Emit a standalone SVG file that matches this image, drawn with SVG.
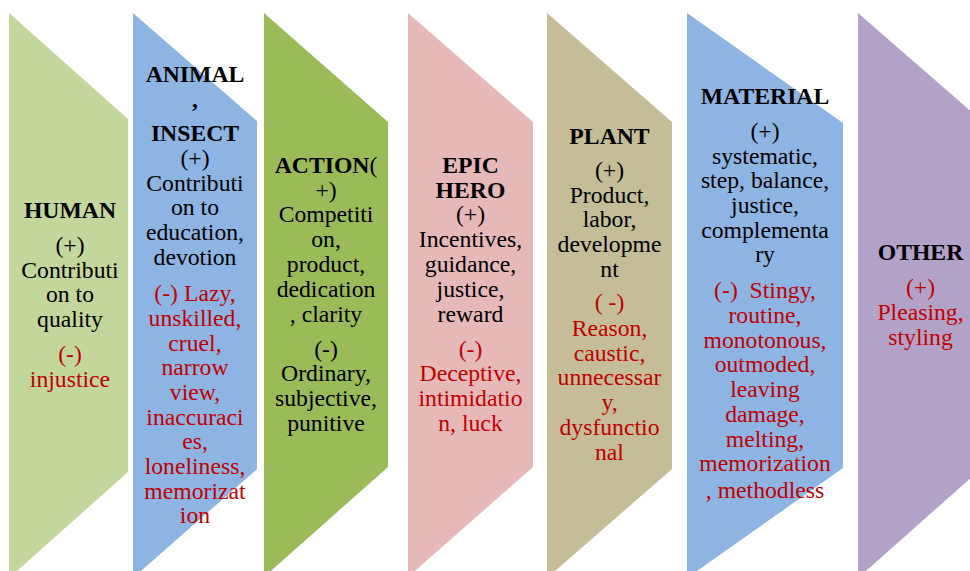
<svg xmlns="http://www.w3.org/2000/svg" width="970" height="571" viewBox="0 0 970 571">
<style>
.t text{font-family:'Liberation Serif','Times New Roman',serif;font-size:23.7px;text-anchor:middle;fill:#000}
.t .b{font-weight:bold}
.t .r{fill:#c00000}
</style>
<rect width="970" height="571" fill="#fff"/>
<g class="t">
<g id="human">
<polygon points="9,13 128,119 128,472 9,578" fill="#c3d69b"/>
<text x="70" y="218" class="b">HUMAN</text>
<text x="70" y="253">(+)</text>
<text x="70" y="277.5">Contributi</text>
<text x="70" y="302">on to</text>
<text x="70" y="326.6">quality</text>
<text x="70" y="362" class="r">(-)</text>
<text x="70" y="386.6" class="r">injustice</text>
</g>
<g id="animal-insect">
<polygon points="133,13 257,121 257,469 133,578" fill="#8eb4e3"/>
<text x="195" y="82" class="b">ANIMAL</text>
<text x="195" y="106.7" class="b">,</text>
<text x="195" y="141" class="b">INSECT</text>
<text x="195" y="166">(+)</text>
<text x="195" y="190.5">Contributi</text>
<text x="195" y="215.3">on to</text>
<text x="195" y="240">education,</text>
<text x="195" y="264.5">devotion</text>
<text x="195" y="301.3" class="r">(-) Lazy,</text>
<text x="195" y="326" class="r">unskilled,</text>
<text x="195" y="350.7" class="r">cruel,</text>
<text x="195" y="375.4" class="r">narrow</text>
<text x="195" y="400" class="r">view,</text>
<text x="195" y="424.7" class="r">inaccuraci</text>
<text x="195" y="449.4" class="r">es,</text>
<text x="195" y="474" class="r">loneliness,</text>
<text x="195" y="498.7" class="r">memorizat</text>
<text x="195" y="523.4" class="r">ion</text>
</g>
<g id="action">
<polygon points="264,13 388,122 388,467 264,577" fill="#9bbb59"/>
<text x="326" y="172.7"><tspan class="b">ACTION</tspan>(</text>
<text x="326" y="197.5">+)</text>
<text x="326" y="222.4">Competiti</text>
<text x="326" y="247.3">on,</text>
<text x="326" y="272.2">product,</text>
<text x="326" y="297.1">dedication</text>
<text x="326" y="322">, clarity</text>
<text x="326" y="356.5">(-)</text>
<text x="326" y="381.4">Ordinary,</text>
<text x="326" y="406.3">subjective,</text>
<text x="326" y="431.2">punitive</text>
</g>
<g id="epic-hero">
<polygon points="408,13 533,122 533,467 408,577" fill="#e6b9b8"/>
<text x="470.5" y="172.7" class="b">EPIC</text>
<text x="470.5" y="197.5" class="b">HERO</text>
<text x="470.5" y="222.4">(+)</text>
<text x="470.5" y="247.3">Incentives,</text>
<text x="470.5" y="272.2">guidance,</text>
<text x="470.5" y="297.1">justice,</text>
<text x="470.5" y="322">reward</text>
<text x="470.5" y="356.5" class="r">(-)</text>
<text x="470.5" y="381.4" class="r">Deceptive,</text>
<text x="470.5" y="406.3" class="r">intimidatio</text>
<text x="470.5" y="431.2" class="r">n, luck</text>
</g>
<g id="plant">
<polygon points="547,13 672,122 672,469 547,578" fill="#c4bd97"/>
<text x="609.5" y="144" class="b">PLANT</text>
<text x="609.5" y="178.3">(+)</text>
<text x="609.5" y="202.5">Product,</text>
<text x="609.5" y="227.2">labor,</text>
<text x="609.5" y="252">developme</text>
<text x="609.5" y="276.7">nt</text>
<text x="609.5" y="310" class="r">( -)</text>
<text x="609.5" y="335.5" class="r">Reason,</text>
<text x="609.5" y="360.5" class="r">caustic,</text>
<text x="609.5" y="385.4" class="r">unnecessar</text>
<text x="609.5" y="410.3" class="r">y,</text>
<text x="609.5" y="435" class="r">dysfunctio</text>
<text x="609.5" y="459.6" class="r">nal</text>
</g>
<g id="material">
<polygon points="687,13 843,123 843,468 687,578" fill="#8eb4e3"/>
<text x="765" y="104" class="b">MATERIAL</text>
<text x="765" y="139">(+)</text>
<text x="765" y="163.5">systematic,</text>
<text x="765" y="188.3">step, balance,</text>
<text x="765" y="213">justice,</text>
<text x="765" y="237.5">complementa</text>
<text x="765" y="262">ry</text>
<text x="765" y="298.3" class="r">(-)&#160; Stingy,</text>
<text x="765" y="323" class="r">routine,</text>
<text x="765" y="347.5" class="r">monotonous,</text>
<text x="765" y="372.2" class="r">outmoded,</text>
<text x="765" y="397" class="r">leaving</text>
<text x="765" y="421.7" class="r">damage,</text>
<text x="765" y="446.5" class="r">melting,</text>
<text x="765" y="471.2" class="r">memorization</text>
<text x="765" y="498" class="r">, methodless</text>
</g>
<g id="other">
<polygon points="858,13 982,121 982,468 858,578" fill="#b3a2c7"/>
<text x="920.5" y="260" class="b">OTHER</text>
<text x="920.5" y="294.5" class="r">(+)</text>
<text x="920.5" y="320" class="r">Pleasing,</text>
<text x="920.5" y="345" class="r">styling</text>
</g>
</g>
<g id="connectors"/>
</svg>
